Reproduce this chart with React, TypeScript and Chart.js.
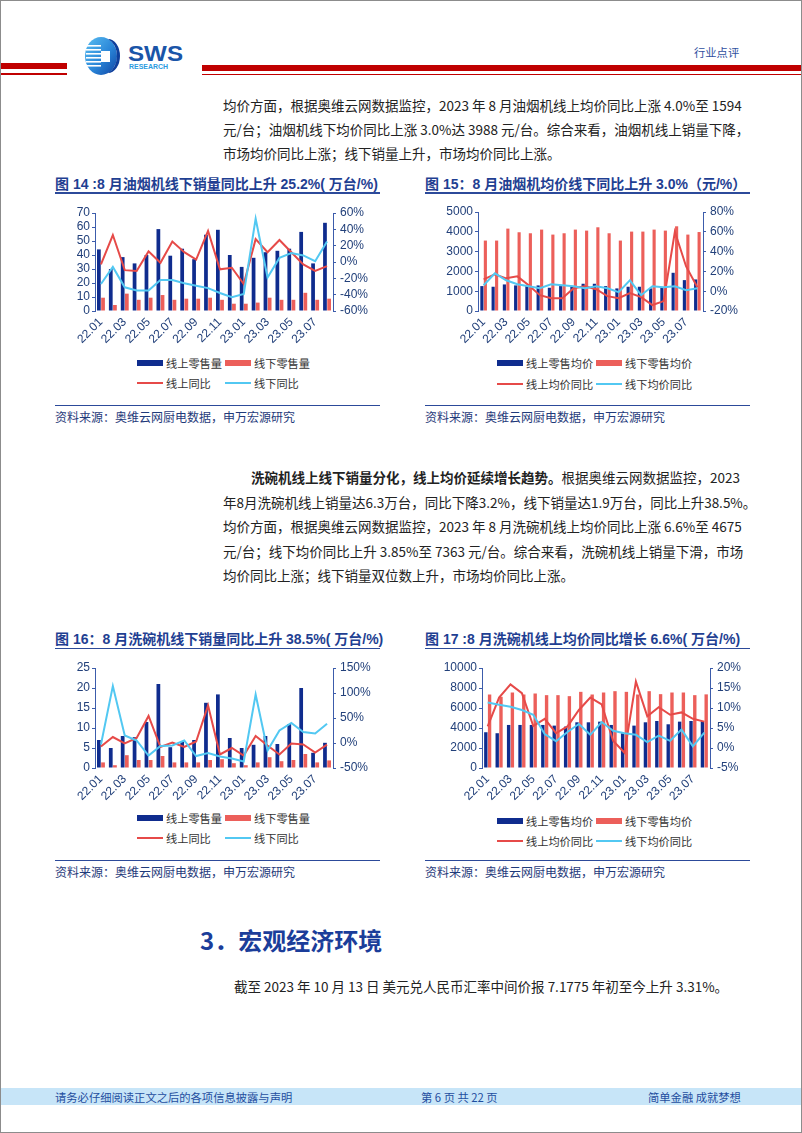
import React, { useEffect, useRef } from 'react';
import { Chart, registerables } from 'chart.js';
Chart.register(...registerables);

// ---------- data ----------
const months = ['22.01','22.02','22.03','22.04','22.05','22.06','22.07','22.08','22.09','22.10','22.11','22.12','23.01','23.02','23.03','23.04','23.05','23.06','23.07','23.08'];

// Fig 14 油烟机销量 (万台 / %)
const hoodOnlineVol = [44, 30, 38.5, 34, 40, 58.5, 39.5, 44.5, 37, 54.5, 58, 40, 31.5, 38, 42, 43, 44.5, 56.5, 34, 63];
const hoodOfflineVol = [9.5, 4.3, 12.4, 8, 9.5, 11.4, 8, 8.8, 8.8, 9.5, 8, 5.2, 5.2, 6, 9.5, 8, 8, 13, 8, 8.8];
const hoodOnlineVolYoY = [-3, 33, -10, -11, 13, -1, 25, 12, 3, 38, -9, -7, -27, 28, 12, 27, 12, -3, -11, -5];
const hoodOfflineVolYoY = [-27, -6, -31, -35, -35, -22, -22, -26, -29, -32, -38, -43, -39, 53, -19, 5, 11, 8, 1, 25.2];

// Fig 15 油烟机均价 (元 / %)
const hoodOnlinePrice = [1258, 1225, 1342, 1292, 1258, 1292, 1174, 1258, 1258, 1376, 1376, 1258, 1141, 1225, 1225, 1141, 1174, 1930, 1560, 1594];
const hoodOfflinePrice = [3557, 3557, 4161, 3977, 3926, 4111, 3859, 3926, 4111, 4060, 4228, 3926, 3557, 4010, 4010, 4111, 4060, 4278, 3859, 3988];
const hoodOnlinePriceYoY = [12, 17, 13, 15, 6, -4, -7, -7, 3, 5, 2, -5, -7, -2, -6, -14, -10, 60, 25, 4];
const hoodOfflinePriceYoY = [6, 18, 11, 7, 5, 3, 7, 6, 5, 3, 5, 3, -1, 11, -4, 5, 4, 5, 1, 3];

// Fig 16 洗碗机销量 (万台 / %)
const dishOnlineVol = [7, 5, 8, 7.7, 11.5, 21, 5.2, 6.5, 7, 16.3, 18.4, 7.5, 5, 5.8, 8, 6, 11, 20, 3.8, 6.3];
const dishOfflineVol = [1.4, 0.7, 3.2, 2, 2, 3, 1.4, 1.4, 1.4, 2, 2.2, 1.2, 0.7, 1.4, 2.7, 1.7, 2, 3.5, 1.4, 1.9];
const dishOnlineVolYoY = [-7, 12, -1, 10, 54, -8, 1, -8, 3, 75, -23, -10, -25, 14, -5, -23, -1, -3, -19, -3.2];
const dishOfflineVolYoY = [-3, 114, 15, 5, -25, -6, -5, 5, -26, -20, -27, -31, -37, 97, -15, 25, 40, 22, 19, 38.5];

// Fig 17 洗碗机均价 (元 / %)
const dishOnlinePrice = [3576, 3477, 4305, 4305, 4305, 4305, 4238, 4139, 4570, 4570, 4636, 4305, 3477, 4238, 4570, 4702, 4371, 4636, 4702, 4675];
const dishOfflinePrice = [7350, 7120, 7550, 7350, 7450, 7285, 7285, 7185, 7616, 7350, 7550, 7682, 7616, 7350, 7682, 7384, 7550, 7550, 7285, 7363];
const dishOnlinePriceYoY = [5.4, 12.6, 15.9, 13.7, 5.5, 7.3, 3.7, 5.4, 9.5, 12.6, 10.9, 1.8, -1.2, 16.6, 7.9, 10.2, 8.3, 8.9, 7.3, 6.6];
const dishOfflinePriceYoY = [11.4, 10.8, 10.3, 9.5, 8.3, 3.5, 1.7, 4.0, 6.0, 3.3, 6.5, 4.3, 3.7, 3.3, 1.5, 3.1, 1.8, 4.6, 0.4, 3.85];

// ---------- styles ----------
const NAVY = '#0f2c8e';
const SALMON = '#ec5f5a';
const RED_LINE = '#e64a48';
const SKY_LINE = '#52c8f2';
const AXIS = '#3c5cab';
const TICK = '#22407a';
const TITLE = '#1f3f92';
const CJK = '"Noto Sans CJK SC", "Noto Sans", sans-serif';
const LATIN = '"Liberation Sans", Arial, sans-serif';
const MIXED = '"Liberation Sans", "Noto Sans CJK SC", sans-serif';

type Spec = {
  barsA: number[]; barsB: number[]; lineA: number[]; lineB: number[];
  yMax: number; yStep: number; rMin: number; rMax: number; rStep: number;
  leftW: number; rightW: number; xH: number; padTop: number;
  catPct: number; barPct: number;
};

function buildConfig(s: Spec): any {
  const tickFont = { family: LATIN, size: 12 };
  return {
    type: 'bar',
    data: {
      labels: months,
      datasets: [
        { type: 'line', data: s.lineB, yAxisID: 'y1', borderColor: SKY_LINE, borderWidth: 2, pointRadius: 0, tension: 0, fill: false, order: 0 },
        { type: 'line', data: s.lineA, yAxisID: 'y1', borderColor: RED_LINE, borderWidth: 2, pointRadius: 0, tension: 0, fill: false, order: 1 },
        { type: 'bar', data: s.barsA, yAxisID: 'y', backgroundColor: NAVY, order: 2, categoryPercentage: s.catPct, barPercentage: s.barPct },
        { type: 'bar', data: s.barsB, yAxisID: 'y', backgroundColor: SALMON, order: 2, categoryPercentage: s.catPct, barPercentage: s.barPct },
      ],
    },
    options: {
      responsive: false,
      animation: false,
      devicePixelRatio: 1,
      layout: { padding: { top: s.padTop, left: 0, right: 0, bottom: 0 } },
      plugins: { legend: { display: false }, tooltip: { enabled: false } },
      scales: {
        x: {
          type: 'category',
          offset: true,
          grid: { display: false, drawTicks: false },
          border: { display: false },
          ticks: {
            autoSkip: false, maxRotation: 45, minRotation: 45, padding: 4,
            color: TICK, font: tickFont,
            callback: (_v: any, i: number) => (i % 2 === 0 ? months[i] : ''),
          },
          afterFit: (sc: any) => { sc.height = s.xH; },
        },
        y: {
          position: 'left', min: 0, max: s.yMax,
          ticks: { autoSkip: false, stepSize: s.yStep, color: TICK, font: tickFont, padding: 2, callback: (v: any) => String(v) },
          grid: { display: true, drawOnChartArea: false, drawTicks: true, tickLength: 3, color: AXIS },
          border: { display: true, color: AXIS, width: 1 },
          afterFit: (sc: any) => { sc.width = s.leftW; },
        },
        y1: {
          position: 'right', min: s.rMin, max: s.rMax,
          ticks: { autoSkip: false, stepSize: s.rStep, color: TICK, font: tickFont, padding: 4, callback: (v: any) => String(v) + '%' },
          grid: { display: true, drawOnChartArea: false, drawTicks: true, tickLength: 3, color: AXIS },
          border: { display: true, color: AXIS, width: 1 },
          afterFit: (sc: any) => { sc.width = s.rightW; },
        },
      },
    },
  };
}

function ChartCanvas(props: { left: number; top: number; width: number; height: number; spec: Spec }) {
  const ref = useRef<HTMLCanvasElement>(null);
  useEffect(() => {
    const chart = new Chart(ref.current as HTMLCanvasElement, buildConfig(props.spec));
    return () => chart.destroy();
  }, []);
  return (
    <canvas ref={ref} width={props.width} height={props.height}
      style={{ position: 'absolute', left: props.left, top: props.top, width: props.width, height: props.height }} />
  );
}

type LegItem = { label: string; color: string; kind: 'bar' | 'line' };

function Legend(props: { x: number; x2: number; y1: number; y2: number; items: LegItem[] }) {
  const pos = [
    [props.x, props.y1], [props.x2, props.y1], [props.x, props.y2], [props.x2, props.y2],
  ];
  return (
    <>
      {props.items.map((it, i) => (
        <div key={i} style={{ position: 'absolute', left: pos[i][0], top: pos[i][1] - 9, height: 18, display: 'flex', alignItems: 'center', whiteSpace: 'nowrap' }}>
          <div style={{ width: 26, height: it.kind === 'bar' ? 6 : 2, background: it.color }} />
          <span style={{ marginLeft: 3, fontFamily: CJK, fontSize: 11.2, color: '#333', lineHeight: '18px' }}>{it.label}</span>
        </div>
      ))}
    </>
  );
}

function Text(props: { left: number; cy: number; size: number; color: string; bold?: boolean; children: any; width?: number; justify?: boolean; lh?: number; family?: string }) {
  const lh = props.lh ?? 24;
  return (
    <div style={{
      position: 'absolute', left: props.left, top: props.cy - lh / 2, height: lh, lineHeight: lh + 'px',
      fontSize: props.size, color: props.color, fontWeight: props.bold ? 700 : 400,
      fontFamily: props.family ?? CJK, whiteSpace: 'nowrap',
      width: props.width, textAlign: props.justify ? 'justify' : 'left',
      textAlignLast: props.justify ? 'justify' : 'auto',
    } as any}>{props.children}</div>
  );
}

function Rect(props: { left: number; top: number; width: number; height: number; color: string }) {
  return <div style={{ position: 'absolute', left: props.left, top: props.top, width: props.width, height: props.height, background: props.color }} />;
}

const BODY = '#222';

export default function App() {
  const volLegend = (a: string, b: string, c: string, d: string): LegItem[] => [
    { label: a, color: NAVY, kind: 'bar' },
    { label: b, color: SALMON, kind: 'bar' },
    { label: c, color: RED_LINE, kind: 'line' },
    { label: d, color: SKY_LINE, kind: 'line' },
  ];
  const src = '资料来源：奥维云网厨电数据，申万宏源研究';
  return (
    <div style={{ position: 'absolute', left: 0, top: 0, width: 802, height: 1133, overflow: 'hidden', background: '#fff' }}>
      {/* page border */}
      <div style={{ position: 'absolute', left: 0, top: 0, width: 802, height: 1133, border: '1px solid #8c8c8c', boxSizing: 'border-box' }} />

      {/* header */}
      <Rect left={1} top={63} width={66} height={6} color="#c00000" />
      <Rect left={1} top={73} width={66} height={1.6} color="#c00000" />
      <Rect left={202} top={65} width={599} height={6} color="#c00000" />
      <Rect left={202} top={73.5} width={599} height={1.6} color="#c00000" />
      <svg style={{ position: 'absolute', left: 80, top: 33, overflow: 'visible' }} width={120} height={44}>
        <defs>
          <linearGradient id="lg" x1="0" y1="0" x2="1" y2="1">
            <stop offset="0" stopColor="#5cc0f2" />
            <stop offset="0.55" stopColor="#2a86d8" />
            <stop offset="1" stopColor="#0f45a5" />
          </linearGradient>
        </defs>
        <ellipse cx={21} cy={23} rx={16} ry={19} fill="url(#lg)" />
        <path d="M 28 6 A 16 19 0 0 1 28 40 A 12 17 0 0 0 28 6 Z" fill="#0e3f9c" />
        {[12, 16, 20, 24, 28, 32].map((y) => (
          <rect key={y} x={6} y={y} width={15} height={1.6} fill="#fff" />
        ))}
        <rect x={21} y={18} width={9} height={11} fill="#fff" />
        <text x={48} y={28} fontFamily={LATIN} fontWeight={700} fontSize={22} fill="#1a55a8" textLength={55} lengthAdjust="spacingAndGlyphs">SWS</text>
        <text x={49} y={36} fontFamily={LATIN} fontWeight={700} fontSize={7.5} fill="#2b9be0" textLength={39} lengthAdjust="spacingAndGlyphs">RESEARCH</text>
      </svg>
      <Text left={694} cy={52} size={11.3} color="#2f4fa0">行业点评</Text>

      {/* paragraph 1 */}
      <Text left={223} cy={105} size={13.5} color={BODY} width={517} justify>均价方面，根据奥维云网数据监控，2023 年 8 月油烟机线上均价同比上涨 4.0%至 1594</Text>
      <Text left={223} cy={129} size={13.5} color={BODY} width={517} justify>元/台；油烟机线下均价同比上涨 3.0%达 3988 元/台。综合来看，油烟机线上销量下降，</Text>
      <Text left={223} cy={153} size={13.5} color={BODY}>市场均价同比上涨；线下销量上升，市场均价同比上涨。</Text>

      {/* fig 14 & 15 titles */}
      <Text left={55} cy={184} size={14} color={TITLE} bold family={MIXED}>图 14 :8 月油烟机线下销量同比上升 25.2%( 万台/%)</Text>
      <Rect left={55} top={192} width={325} height={1.5} color="#2c4a9a" />
      <Text left={425} cy={184} size={14} color={TITLE} bold family={MIXED}>图 15：8 月油烟机均价线下同比上升 3.0%（元/%）</Text>
      <Rect left={425} top={192} width={325} height={1.5} color="#2c4a9a" />

      <ChartCanvas left={55} top={198} width={325} height={150} spec={{
        barsA: hoodOnlineVol, barsB: hoodOfflineVol, lineA: hoodOnlineVolYoY, lineB: hoodOfflineVolYoY,
        yMax: 70, yStep: 10, rMin: -60, rMax: 60, rStep: 20,
        leftW: 40, rightW: 47, xH: 37, padTop: 15, catPct: 0.7, barPct: 0.9,
      }} />
      <ChartCanvas left={425} top={198} width={325} height={150} spec={{
        barsA: hoodOnlinePrice, barsB: hoodOfflinePrice, lineA: hoodOnlinePriceYoY, lineB: hoodOfflinePriceYoY,
        yMax: 5000, yStep: 1000, rMin: -20, rMax: 80, rStep: 20,
        leftW: 53, rightW: 47, xH: 37, padTop: 14, catPct: 0.62, barPct: 0.9,
      }} />
      <Legend x={137} x2={225} y1={363} y2={383} items={volLegend('线上零售量', '线下零售量', '线上同比', '线下同比')} />
      <Legend x={497} x2={596} y1={363} y2={384} items={volLegend('线上零售均价', '线下零售均价', '线上均价同比', '线下均价同比')} />
      <Rect left={55} top={404.5} width={325} height={1.2} color="#2c4a9a" />
      <Rect left={425} top={404.5} width={325} height={1.2} color="#2c4a9a" />
      <Text left={55} cy={417} size={12} color="#1f3a7a">{src}</Text>
      <Text left={425} cy={417} size={12} color="#1f3a7a">{src}</Text>

      {/* paragraph 2 */}
      <Text left={251} cy={477} size={13.5} color={BODY} width={489} justify><b>洗碗机线上线下销量分化，线上均价延续增长趋势。</b>根据奥维云网数据监控，2023</Text>
      <Text left={223} cy={501.5} size={13.5} color={BODY} width={519} justify>年8月洗碗机线上销量达6.3万台，同比下降3.2%，线下销量达1.9万台，同比上升38.5%。</Text>
      <Text left={223} cy={526} size={13.5} color={BODY} width={517} justify>均价方面，根据奥维云网数据监控，2023 年 8 月洗碗机线上均价同比上涨 6.6%至 4675</Text>
      <Text left={223} cy={550.5} size={13.5} color={BODY} width={517} justify>元/台；线下均价同比上升 3.85%至 7363 元/台。综合来看，洗碗机线上销量下滑，市场</Text>
      <Text left={223} cy={575} size={13.5} color={BODY}>均价同比上涨；线下销量双位数上升，市场均价同比上涨。</Text>

      {/* fig 16 & 17 */}
      <Text left={55} cy={638.5} size={14} color={TITLE} bold family={MIXED}>图 16：8 月洗碗机线下销量同比上升 38.5%( 万台/%)</Text>
      <Rect left={55} top={647.5} width={325} height={1.5} color="#2c4a9a" />
      <Text left={425} cy={638.5} size={14} color={TITLE} bold family={MIXED}>图 17 :8 月洗碗机线上均价同比增长 6.6%( 万台/%)</Text>
      <Rect left={425} top={647.5} width={325} height={1.5} color="#2c4a9a" />

      <ChartCanvas left={55} top={653} width={325} height={150} spec={{
        barsA: dishOnlineVol, barsB: dishOfflineVol, lineA: dishOnlineVolYoY, lineB: dishOfflineVolYoY,
        yMax: 25, yStep: 5, rMin: -50, rMax: 150, rStep: 50,
        leftW: 40, rightW: 47, xH: 35, padTop: 15, catPct: 0.7, barPct: 0.9,
      }} />
      <ChartCanvas left={425} top={653} width={325} height={150} spec={{
        barsA: dishOnlinePrice, barsB: dishOfflinePrice, lineA: dishOnlinePriceYoY, lineB: dishOfflinePriceYoY,
        yMax: 10000, yStep: 2000, rMin: -5, rMax: 20, rStep: 5,
        leftW: 57, rightW: 40, xH: 35, padTop: 15, catPct: 0.66, barPct: 0.9,
      }} />
      <Legend x={137} x2={225} y1={818} y2={838} items={volLegend('线上零售量', '线下零售量', '线上同比', '线下同比')} />
      <Legend x={497} x2={596} y1={821} y2={841} items={volLegend('线上零售均价', '线下零售均价', '线上均价同比', '线下均价同比')} />
      <Rect left={55} top={859.5} width={325} height={1.2} color="#2c4a9a" />
      <Rect left={425} top={859.5} width={325} height={1.2} color="#2c4a9a" />
      <Text left={55} cy={872} size={12} color="#1f3a7a">{src}</Text>
      <Text left={425} cy={872} size={12} color="#1f3a7a">{src}</Text>

      {/* section 3 */}
      <Text left={200} cy={940} size={24} color="#1b3d9a" bold lh={34}>3．宏观经济环境</Text>
      <Text left={234} cy={986} size={13.5} color={BODY}>截至 2023 年 10 月 13 日 美元兑人民币汇率中间价报 7.1775 年初至今上升 3.31%。</Text>

      {/* footer */}
      <Rect left={1} top={1088} width={800} height={17} color="#c7e5f8" />
      <Text left={55} cy={1097} size={11.3} color="#1f4e9f" lh={17}>请务必仔细阅读正文之后的各项信息披露与声明</Text>
      <Text left={421} cy={1097} size={11.3} color="#1f4e9f" lh={17}>第 6 页 共 22 页</Text>
      <Text left={648} cy={1097} size={11.3} color="#1f4e9f" lh={17}>简单金融 成就梦想</Text>
    </div>
  );
}
